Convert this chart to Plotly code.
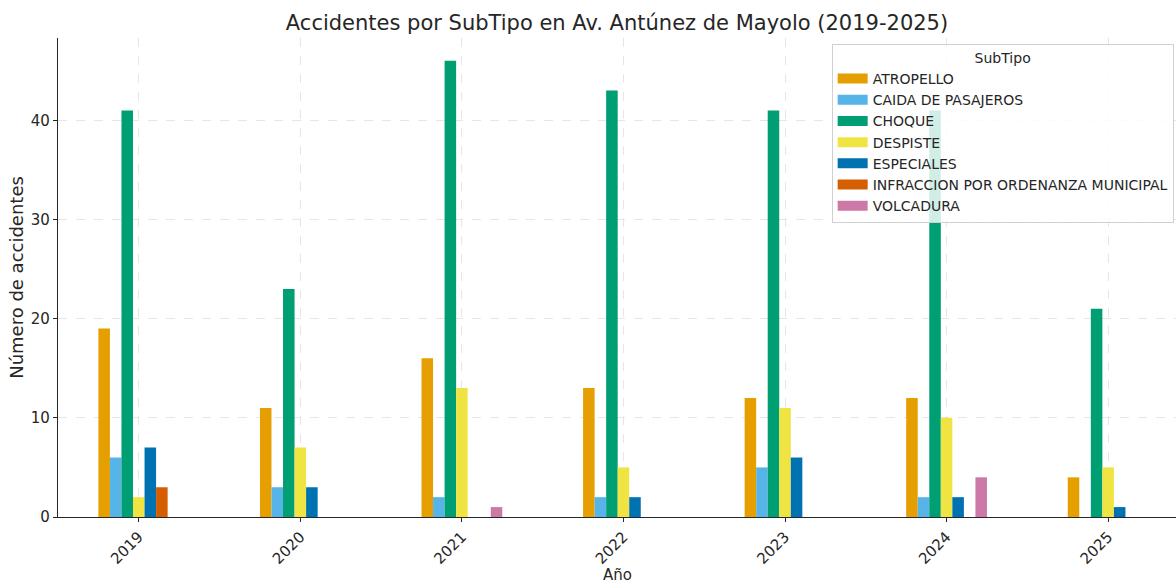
import plotly.graph_objects as go

# accidentes por subtipo y año
years = ["2019", "2020", "2021", "2022", "2023", "2024", "2025"]
subtipos = ["ATROPELLO", "CAIDA DE PASAJEROS", "CHOQUE", "DESPISTE",
            "ESPECIALES", "INFRACCION POR ORDENANZA MUNICIPAL", "VOLCADURA"]

atropello = [19, 11, 16, 13, 12, 12, 4]
caida = [6, 3, 2, 2, 5, 2, 0]
choque = [41, 23, 46, 43, 41, 41, 21]
despiste = [2, 7, 13, 5, 11, 10, 5]
especiales = [7, 3, 0, 2, 6, 2, 1]
infraccion = [3, 0, 0, 0, 0, 0, 0]
volcadura = [0, 0, 1, 0, 0, 4, 0]

series = [atropello, caida, choque, despiste, especiales, infraccion, volcadura]
colors = ["#E69F00", "#56B4E9", "#009E73", "#F0E442", "#0072B2", "#D55E00", "#CC79A7"]

fig = go.Figure()
for name, vals, c in zip(subtipos, series, colors):
    fig.add_trace(go.Bar(x=years, y=vals, name=name, marker_color=c,
                         marker_line_width=0, legendgroup=name, showlegend=False))
# legend entries drawn as thick lines so they look like wide patches
for name, c in zip(subtipos, colors):
    fig.add_trace(go.Scatter(x=[years[0]], y=[None], mode="lines", name=name,
                             legendgroup=name, line=dict(color=c, width=10),
                             hoverinfo="skip"))

font = "DejaVu Sans, sans-serif"
fig.update_layout(
    width=1176, height=584,
    margin=dict(l=58, r=0, t=38, b=67),
    paper_bgcolor="white", plot_bgcolor="white",
    font=dict(family=font, color="#262626", size=15),
    barmode="group", bargap=0.5, bargroupgap=0,
    title=dict(text="Accidentes por SubTipo en Av. Antúnez de Mayolo (2019-2025)",
               x=0.5, xref="paper", xanchor="center", y=0.962, yanchor="middle",
               font=dict(size=21, color="#262626")),
    legend=dict(x=0.692, y=0.988, xanchor="left", yanchor="top",
                bgcolor="rgba(255,255,255,0.82)", bordercolor="#d0d0d0", borderwidth=1,
                font=dict(size=14), tracegroupgap=0,
                title=dict(text="SubTipo", side="top center", font=dict(size=14))),
    annotations=[dict(text="Año", x=0.5, y=-0.121, xref="paper", yref="paper",
                      xanchor="center", yanchor="middle", showarrow=False,
                      font=dict(size=15))],
)
fig.update_xaxes(range=[-0.5, 6.42], showline=True, linecolor="#262626", linewidth=1.2,
                 ticks="outside", ticklen=4, tickcolor="#262626", tickangle=-45,
                 showgrid=True, gridcolor="#e6e6e6", griddash="dash", gridwidth=1,
                 automargin=False, tickfont=dict(size=15))
fig.update_yaxes(range=[0, 48.3], tickvals=[0, 10, 20, 30, 40], showline=True,
                 linecolor="#262626", linewidth=1.2, ticks="outside", ticklen=4,
                 tickcolor="#262626", showgrid=True, gridcolor="#e6e6e6", griddash="dash",
                 gridwidth=1, zeroline=False, automargin=False,
                 title=dict(text="Número de accidentes", standoff=2),
                 tickfont=dict(size=15))

# drop the default 8px body margin so the figure fills the window
fig.write_html("out.html", config={"displayModeBar": False},
               post_script="document.body.style.margin='0';")
